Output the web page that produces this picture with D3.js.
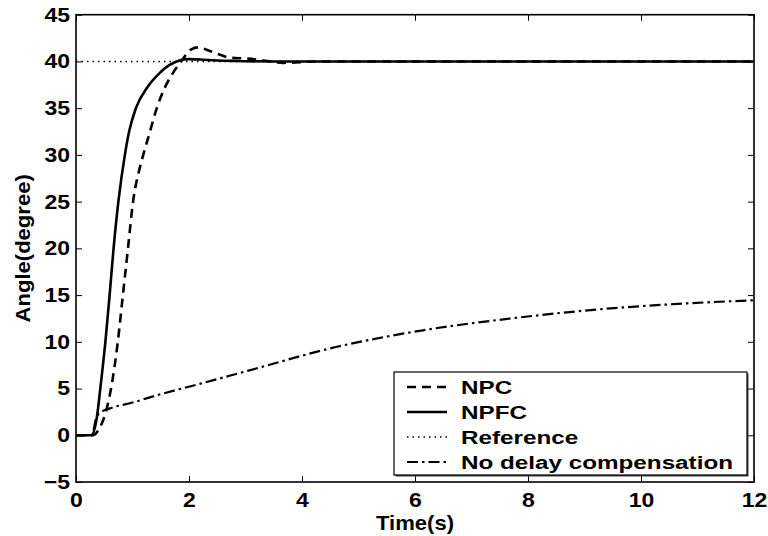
<!DOCTYPE html>
<html>
<head>
<meta charset="utf-8">
<script src="https://cdn.jsdelivr.net/npm/d3@7"></script>
<style>
  html, body { margin: 0; padding: 0; background: #fff; }
  svg { display: block; font-family: "Liberation Sans", Arial, Helvetica, sans-serif; font-weight: bold; }
</style>
</head>
<body>
<svg id="chart" width="768" height="536"></svg>
<script>
// Step responses of the joint angle (degrees) against time (s)
const npcTime   = [0, 0.3, 0.4, 0.5, 0.62, 0.74, 0.83, 0.92, 1.01, 1.12, 1.19, 1.30, 1.43, 1.58, 1.71, 1.86, 2.04, 2.16, 2.4, 2.73, 3.05, 3.31, 3.67, 4.27, 12];
const npcAngle  = [0, 0, 0.6, 1.95, 5, 10, 15, 20, 25, 28.4, 30, 32.3, 35, 37.3, 38.7, 40, 41.3, 41.5, 41.05, 40.4, 40.3, 40.1, 39.85, 40, 40];

const npfcTime  = [0, 0.27, 0.37, 0.43, 0.52, 0.595, 0.665, 0.75, 0.865, 0.94, 1.06, 1.27, 1.47, 1.65, 1.83, 2.0, 2.2, 2.5, 2.8, 3.5, 12];
const npfcAngle = [0, 0, 1.95, 5, 10, 15, 20, 25, 30, 32.5, 35, 37.3, 38.7, 39.6, 40.1, 40.25, 40.2, 40.1, 40.05, 40, 40];

const refTime   = [0, 12];
const refAngle  = [40, 40];

const noCompTime  = [0, 0.28, 0.36, 0.45, 0.59, 1.0, 1.5, 2.19, 3.07, 4.6, 6.14, 7.67, 9.21, 10.74, 12];
const noCompAngle = [0, 0, 1.9, 2.5, 2.85, 3.5, 4.4, 5.5, 6.95, 9.44, 11.23, 12.48, 13.45, 14.09, 14.44];

const xTicks = [0, 2, 4, 6, 8, 10, 12];
const yTicks = [-5, 0, 5, 10, 15, 20, 25, 30, 35, 40, 45];

const seriesNames = ["NPC", "NPFC", "Reference", "No delay compensation"];

// Layout
const W = 768, H = 536;
const margin = { left: 76, top: 14.7, right: 14, bottom: 54 };
const iw = W - margin.left - margin.right;
const ih = H - margin.top - margin.bottom;

const svg = d3.select("#chart");
const g = svg.append("g").attr("transform", `translate(${margin.left},${margin.top})`);

const x = d3.scaleLinear().domain([0, 12]).range([0, iw]);
const y = d3.scaleLinear().domain([-5, 45]).range([ih, 0]);

// Widen glyphs horizontally by factor k, keeping the anchor in place
function stretch(sel, k) {
  sel.each(function () {
    const len = this.getComputedTextLength();
    d3.select(this).attr("textLength", len * k).attr("lengthAdjust", "spacingAndGlyphs");
  });
}

const styles = [
  { dash: "9,6",         width: 2.6 },   // NPC
  { dash: null,          width: 2.6 },   // NPFC
  { dash: "1.5,4",       width: 1.5 },   // Reference
  { dash: "11,4,2.5,4",  width: 2.2 }    // No delay compensation
];

const series = [
  d3.zip(npcTime, npcAngle),
  d3.zip(npfcTime, npfcAngle),
  d3.zip(refTime, refAngle),
  d3.zip(noCompTime, noCompAngle)
];

const line = d3.line()
  .x(d => x(d[0]))
  .y(d => y(d[1]))
  .curve(d3.curveMonotoneX);

// Curves (reference first so it sits underneath)
[2, 3, 0, 1].forEach(i => {
  g.append("path")
    .attr("d", line(series[i]))
    .attr("fill", "none")
    .attr("stroke", "#000")
    .attr("stroke-width", styles[i].width)
    .attr("stroke-dasharray", styles[i].dash)
    .attr("stroke-linejoin", "round");
});

// Axes with inward ticks on all four sides
const tickLen = 6;
const xAxisB = d3.axisBottom(x).tickValues(xTicks).tickSizeInner(-tickLen).tickSizeOuter(0).tickPadding(11).tickFormat(d3.format(""));
const xAxisT = d3.axisTop(x).tickValues(xTicks).tickSizeInner(-tickLen).tickSizeOuter(0).tickFormat("");
const yAxisL = d3.axisLeft(y).tickValues(yTicks).tickSizeInner(-tickLen).tickSizeOuter(0).tickPadding(6).tickFormat(d3.format(""));
const yAxisR = d3.axisRight(y).tickValues(yTicks).tickSizeInner(-tickLen).tickSizeOuter(0).tickFormat("");

const gb = g.append("g").attr("transform", `translate(0,${ih})`).call(xAxisB);
const gt = g.append("g").call(xAxisT);
const gl = g.append("g").call(yAxisL);
const gr = g.append("g").attr("transform", `translate(${iw},0)`).call(yAxisR);

[gb, gt, gl, gr].forEach(a => {
  a.select(".domain").remove();
  a.selectAll(".tick line").attr("stroke", "#000").attr("stroke-width", 1);
  a.selectAll("text").attr("font-family", null).attr("font-size", 20).attr("fill", "#000");
});
gb.selectAll("text").attr("dy", "0.71em");
stretch(gb.selectAll("text"), 1.15);
stretch(gl.selectAll("text"), 1.15);

// Frame
g.append("rect")
  .attr("x", 0).attr("y", 0).attr("width", iw).attr("height", ih)
  .attr("fill", "none").attr("stroke", "#000").attr("stroke-width", 1.6);

// Axis titles
svg.append("text")
  .attr("x", margin.left + iw / 2).attr("y", 530)
  .attr("text-anchor", "middle").attr("font-size", 21)
  .text("Time(s)")
  .call(stretch, 1.05);

svg.append("text")
  .attr("transform", `translate(30,${margin.top + ih / 2}) rotate(-90)`)
  .attr("text-anchor", "middle").attr("font-size", 21)
  .text("Angle(degree)")
  .call(stretch, 1.05);

// Legend
const lg = svg.append("g").attr("transform", "translate(394,372)");
const lw = 353, lh = 103;
lg.append("rect").attr("x", 1.5).attr("y", 1.5).attr("width", lw).attr("height", lh).attr("fill", "#444");
lg.append("rect").attr("width", lw).attr("height", lh).attr("fill", "#fff").attr("stroke", "#000").attr("stroke-width", 1.2);

const legendTexts = [];
seriesNames.forEach((name, i) => {
  const cy = 15 + i * 25;
  lg.append("line")
    .attr("x1", 13).attr("x2", 53).attr("y1", cy).attr("y2", cy)
    .attr("stroke", "#000")
    .attr("stroke-width", styles[i].width)
    .attr("stroke-dasharray", styles[i].dash);
  legendTexts.push(lg.append("text")
    .attr("x", 67).attr("y", cy + 6.5)
    .attr("font-size", 18)
    .text(name).node());
});
// Legend lettering is set wide: the longest label spans most of the box
const longest = d3.max(legendTexts, n => n.getComputedTextLength());
stretch(d3.selectAll(legendTexts), (lw - 81) / longest);
</script>
</body>
</html>
